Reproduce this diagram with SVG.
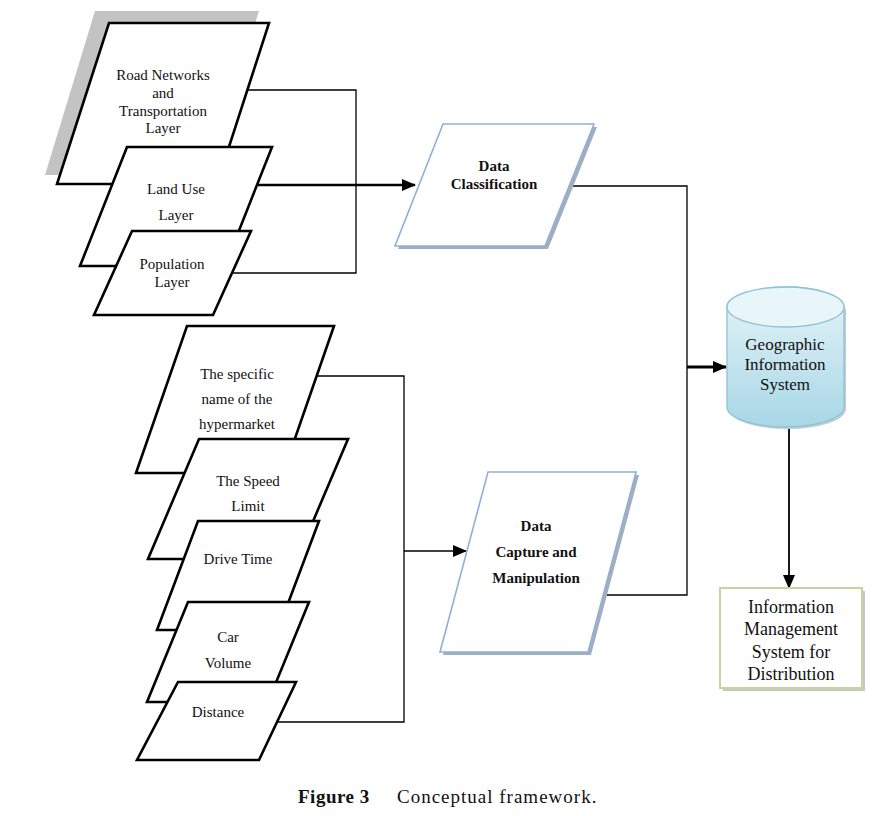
<svg xmlns="http://www.w3.org/2000/svg" width="880" height="816" viewBox="0 0 880 816">
<defs>
<style>
.layer{fill:#fff;stroke:#000;stroke-width:2.6;stroke-linejoin:miter}
.lbl{font-family:"Liberation Serif","Times New Roman",serif;font-size:15px;fill:#111;text-anchor:middle}
.bold{font-weight:bold}
.conn{fill:none;stroke:#000;stroke-width:1.3}
.thick{fill:none;stroke:#000;stroke-width:2.4}
.proc{fill:#fff;stroke:#8fb0d8;stroke-width:1.6}
.procsh{fill:#a3adbb;stroke:none}
</style>
<marker id="ah" markerUnits="userSpaceOnUse" markerWidth="14" markerHeight="12" refX="13" refY="6" orient="auto">
<path d="M0,0 L14,6 L0,12 Z" fill="#000"/>
</marker>
<linearGradient id="cyl" x1="0" y1="0" x2="0" y2="1">
<stop offset="0" stop-color="#e6f4f8"/>
<stop offset="1" stop-color="#a8d7e6"/>
</linearGradient>
</defs>
<rect width="880" height="816" fill="#fff"/>

<g id="connectors">
<path class="conn" d="M246,90 H356 V273 H230"/>
<path class="thick" d="M256,185 H415" marker-end="url(#ah)"/>
<path class="conn" d="M316,376 H404 V722 H276"/>
<path class="conn" d="M404,551 H466" marker-end="url(#ah)" style="stroke-width:1.6"/>
<path class="conn" d="M570,186 H687 V595 H600"/>
<path class="thick" d="M687,367 H726" marker-end="url(#ah)" style="stroke-width:3"/>
<path class="conn" d="M789,427 V588" marker-end="url(#ah)" style="stroke-width:1.8"/>
</g>

<g id="road-networks">
<polygon points="95,11 259,11 207,175 45,175" fill="#c3c3c3"/>
<polygon class="layer" points="109,23 269,23 217,184 57,184"/>
<text class="lbl" x="163" y="80">Road Networks</text>
<text class="lbl" x="163" y="98">and</text>
<text class="lbl" x="163" y="116">Transportation</text>
<text class="lbl" x="163" y="133">Layer</text>
</g>

<g id="land-use">
<polygon class="layer" points="127,147 272,147 225,266 80,266"/>
<text class="lbl" x="176" y="194">Land Use</text>
<text class="lbl" x="176" y="220">Layer</text>
</g>

<g id="population">
<polygon class="layer" points="132,231 251,231 213,315 94,315"/>
<text class="lbl" x="172" y="269">Population</text>
<text class="lbl" x="172" y="287">Layer</text>
</g>

<g id="specific-name">
<polygon class="layer" points="187,326 334,326 283,473 136,473"/>
<text class="lbl" x="237" y="379">The specific</text>
<text class="lbl" x="237" y="404">name of the</text>
<text class="lbl" x="237" y="429">hypermarket</text>
</g>

<g id="speed-limit">
<polygon class="layer" points="199,439 348,439 297,559 148,559"/>
<text class="lbl" x="248" y="486">The Speed</text>
<text class="lbl" x="248" y="511">Limit</text>
</g>

<g id="drive-time">
<polygon class="layer" points="198,521 319,521 278,630 157,630"/>
<text class="lbl" x="238" y="564">Drive Time</text>
</g>

<g id="car-volume">
<polygon class="layer" points="188,602 309,602 268,702 147,702"/>
<text class="lbl" x="228" y="642">Car</text>
<text class="lbl" x="228" y="668">Volume</text>
</g>

<g id="distance">
<polygon class="layer" points="178,682 296,682 259,760 137,760"/>
<text class="lbl" x="218" y="717">Distance</text>
</g>

<g id="data-classification">
<polygon class="procsh" points="446,127 597,127 548,249 398,249"/>
<polygon class="proc" points="443,124 594,124 545,246 395,246"/>
<text class="lbl bold" x="494" y="171">Data</text>
<text class="lbl bold" x="494" y="189">Classification</text>
</g>

<g id="data-capture">
<polygon class="procsh" points="491,475 639,475 591,655 443,655"/>
<polygon class="proc" points="488,472 636,472 588,652 440,652"/>
<text class="lbl bold" x="536" y="531">Data</text>
<text class="lbl bold" x="536" y="557">Capture and</text>
<text class="lbl bold" x="536" y="583">Manipulation</text>
</g>

<g id="gis">
<path d="M729,309 V409 A58.5,20 0 0 0 846,409 V309 Z" fill="#c4ccd2"/>
<path d="M727,307 V407 A58.5,20 0 0 0 844,407 V307 A58.5,20 0 0 0 727,307 Z" fill="url(#cyl)" stroke="#8ec3d6" stroke-width="1.3"/>
<ellipse cx="785.5" cy="307" rx="58.5" ry="20" fill="#e8f5f9" stroke="#8ec3d6" stroke-width="1.3"/>
<text class="lbl" x="785" y="350" style="font-size:17px">Geographic</text>
<text class="lbl" x="785" y="370" style="font-size:17px">Information</text>
<text class="lbl" x="785" y="390" style="font-size:17px">System</text>
</g>

<g id="info-management">
<rect x="723" y="591" width="142" height="100" fill="#c5c8c0"/>
<rect x="720" y="588" width="142" height="100" fill="#fff" stroke="#c3d69b" stroke-width="2"/>
<text class="lbl" x="791" y="613" style="font-size:18px">Information</text>
<text class="lbl" x="791" y="635" style="font-size:18px">Management</text>
<text class="lbl" x="791" y="658" style="font-size:18px">System for</text>
<text class="lbl" x="791" y="680" style="font-size:18px">Distribution</text>
</g>

<g id="caption">
<text x="298" y="803" style="font-family:'Liberation Serif','Times New Roman',serif;font-size:19px;font-weight:bold;letter-spacing:0.5px;fill:#111">Figure 3</text>
<text x="397" y="803" style="font-family:'Liberation Serif','Times New Roman',serif;font-size:19px;letter-spacing:1px;fill:#111">Conceptual framework.</text>
</g>
</svg>
